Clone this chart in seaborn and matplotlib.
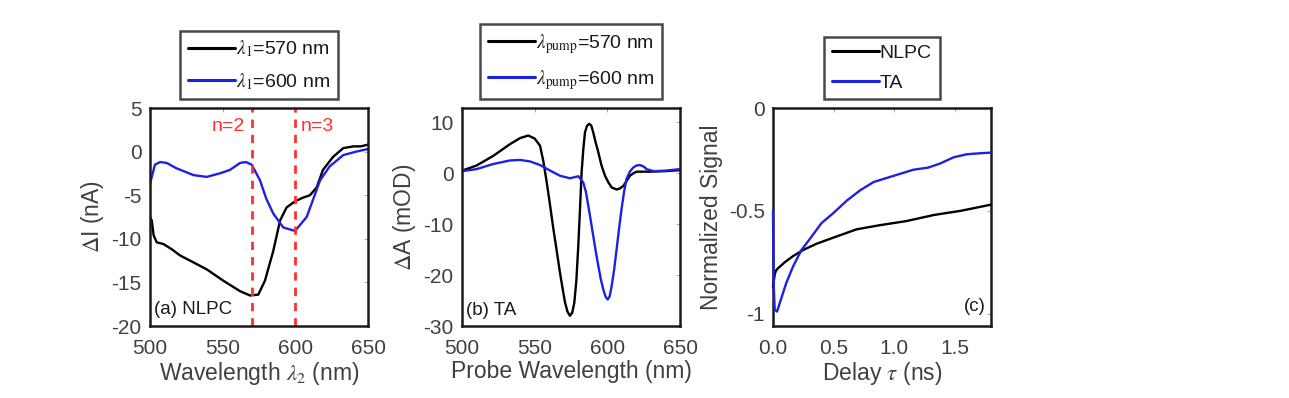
import numpy as np
import seaborn as sns
import matplotlib.pyplot as plt

# (a) NLPC
wl_a_570 = [500, 501.2, 502.5, 504.6, 509.2, 515, 520.6, 529.8, 539, 550.4, 561.9, 568.8, 574.5,
            579.1, 584.8, 589.5, 594, 599.8, 605, 610.1, 614.7, 619, 626, 633, 640, 645, 650]
di_570 = [-7.5, -7.9, -9.6, -10.4, -10.6, -11.2, -11.9, -12.7, -13.5, -14.8, -16.0, -16.5, -16.4,
          -14.8, -11.4, -7.9, -6.4, -5.7, -5.3, -5.0, -4.1, -2.1, -0.6, 0.4, 0.6, 0.6, 0.8]
wl_a_600 = [500, 503.4, 507, 511.5, 518, 530, 539, 548, 555, 562, 566, 570, 575.7, 580, 584.8,
            591.7, 599.8, 607.8, 612, 617, 623.6, 633, 642, 650]
di_600 = [-3.7, -1.5, -1.2, -1.3, -1.9, -2.7, -2.9, -2.5, -2.1, -1.3, -1.2, -1.5, -3.3, -5.4, -7.1,
          -8.7, -9.1, -7.5, -5.6, -3.3, -1.7, -0.4, 0.0, 0.3]
resonances = [570, 600]

# (b) TA
wl_b_570 = [500, 510, 521.5, 533, 540, 545.6, 550, 553.7, 556, 558.3, 560.6, 562.9, 565.2, 567.4,
            569.2, 570.9, 572.6, 574.3, 575.8, 577.3, 578.7, 580, 581.2, 582.3, 583.5, 584.6,
            586, 587.6, 589, 590.3, 592, 593.8, 596, 598.4, 600.7, 603, 606.4, 608.7, 611, 613.3,
            615.6, 618, 620.2, 625, 629.3, 640, 650]
da_570 = [0.5, 1.5, 3.4, 5.7, 6.9, 7.4, 6.8, 5.4, 2.3, -1.8, -6.3, -11.0, -15.3, -19.5, -22.6,
          -25.4, -27.2, -28.0, -27.4, -25.4, -21.0, -14.3, -7.0, 0.2, 4.8, 8.0, 9.3, 9.7, 9.3,
          8.0, 6.0, 4.1, 1.5, -0.5, -1.8, -2.8, -3.2, -3.0, -2.5, -1.5, -0.5, 0.0, 0.3, 0.3, 0.3,
          0.4, 0.6]
wl_b_600 = [500, 510, 521.5, 533, 540, 547, 553.7, 560.7, 567.4, 574.3, 580, 583.4, 585.2, 586.9,
            588.6, 590.3, 592, 593.8, 595.5, 597.2, 598.7, 600.2, 601.6, 603, 604.7, 606.4,
            608.1, 609.8, 611.5, 613.2, 615.5, 617.8, 620, 622.4, 625, 627, 632, 640, 650]
da_600 = [0.4, 0.8, 1.8, 2.5, 2.6, 2.3, 1.6, 0.5, -0.5, -1.0, -0.6, -1.8, -3.6, -6.4, -9.3,
          -12.3, -15.3, -18.2, -20.8, -22.8, -24.2, -24.8, -24.2, -22.1, -18.9, -14.9, -10.8,
          -7.0, -3.7, -1.1, 0.3, 1.1, 1.5, 1.6, 1.3, 0.8, 0.4, 0.5, 0.8]

# (c) kinetics
t_nlpc = [0.0, 0.007, 0.014, 0.025, 0.04, 0.097, 0.166, 0.25, 0.36, 0.50, 0.69, 0.88, 1.10, 1.33,
          1.55, 1.80]
s_nlpc = [-0.87, -0.84, -0.81, -0.79, -0.78, -0.75, -0.72, -0.69, -0.66, -0.63, -0.59, -0.57,
          -0.55, -0.52, -0.50, -0.47]
t_ta = [0.0, 0.005, 0.014, 0.033, 0.055, 0.11, 0.166, 0.235, 0.30, 0.40, 0.50, 0.61, 0.72, 0.83,
        0.94, 1.05, 1.16, 1.28, 1.38, 1.49, 1.60, 1.71, 1.80]
s_ta = [-0.50, -0.85, -0.98, -0.99, -0.95, -0.85, -0.77, -0.69, -0.64, -0.56, -0.51, -0.45, -0.40,
        -0.36, -0.34, -0.32, -0.30, -0.29, -0.27, -0.24, -0.225, -0.22, -0.217]

sns.set_style("white")
plt.rcParams['font.family'] = ['Liberation Sans', 'DejaVu Sans']
plt.rcParams['mathtext.fontset'] = 'stix'
plt.rcParams['axes.unicode_minus'] = False
grey = '#404040'
plt.rcParams['text.color'] = grey
plt.rcParams['xtick.color'] = grey
plt.rcParams['ytick.color'] = grey
plt.rcParams['axes.labelcolor'] = grey

fig = plt.figure(figsize=(12.89, 3.98), dpi=100)
W, H = 1289, 398
bottom, top = 326, 108
lefts = [150, 462, 773]
axes = [fig.add_axes([l / W, (H - bottom) / H, 218 / W, (bottom - top) / H]) for l in lefts]

blue = '#1f1fe6'
lw = 1.7


def style(ax):
    for s in ax.spines.values():
        s.set_visible(True)
        s.set_color('#1a1a1a')
        s.set_linewidth(1.8)
    ax.tick_params(direction='in', length=3, width=0.6, labelsize=15, top=True, right=True,
                   color='#999999')
    ax.tick_params(axis='x', pad=9)
    ax.tick_params(axis='y', pad=6)
    for t in ax.get_xticklabels() + ax.get_yticklabels():
        t.set_color(grey)
    ax.xaxis.label.set_size(16.5)
    ax.yaxis.label.set_size(16.5)
    ax.xaxis.labelpad = 2


def legend(ax):
    leg = ax.legend(loc='lower center', bbox_to_anchor=(0.5, 1.04), fontsize=14, frameon=True,
                    fancybox=False, edgecolor='#1a1a1a', handlelength=2.4, handletextpad=0.05,
                    borderpad=0.4, labelspacing=0.6, borderaxespad=0)
    leg.get_frame().set_linewidth(1.8)
    for t in leg.get_texts():
        t.set_color('#1a1a1a')
    for h in leg.get_lines():
        h.set_linewidth(2.2)


# panel a
ax = axes[0]
sns.lineplot(x=wl_a_570, y=di_570, color='black', lw=lw, ax=ax, estimator=None,
             label=r'$\lambda_1$=570 nm')
sns.lineplot(x=wl_a_600, y=di_600, color=blue, lw=lw, ax=ax, estimator=None,
             label=r'$\lambda_1$=600 nm')
for r in resonances:
    ax.axvline(r, color='#ff3030', ls=(0, (3, 2.5)), lw=2)
ax.text(565, 2.9, 'n=2', color='#ff3030', fontsize=14, ha='right', va='center')
ax.text(604, 2.9, 'n=3', color='#ff3030', fontsize=14, ha='left', va='center')
ax.text(503, -18.1, '(a) NLPC', color='#1a1a1a', fontsize=13.5, ha='left', va='center')
ax.set_xlim(500, 650)
ax.set_ylim(-20, 5)
ax.set_xticks([500, 550, 600, 650])
ax.set_yticks([-20, -15, -10, -5, 0, 5])
ax.set_xlabel(r'Wavelength $\lambda_2$ (nm)')
ax.set_ylabel(r'$\Delta$I (nA)')
style(ax)
legend(ax)

# panel b
ax = axes[1]
sns.lineplot(x=wl_b_570, y=da_570, color='black', lw=lw, ax=ax, estimator=None,
             label=r'$\lambda_{\rm pump}$=570 nm')
sns.lineplot(x=wl_b_600, y=da_600, color=blue, lw=lw, ax=ax, estimator=None,
             label=r'$\lambda_{\rm pump}$=600 nm')
ax.text(503, -27, '(b) TA', color='#1a1a1a', fontsize=13.5, ha='left', va='center')
ax.set_xlim(500, 650)
ax.set_ylim(-30, 12.8)
ax.set_xticks([500, 550, 600, 650])
ax.set_yticks([-30, -20, -10, 0, 10])
ax.set_xlabel('Probe Wavelength (nm)')
ax.set_ylabel(r'$\Delta$A (mOD)')
style(ax)
legend(ax)

# panel c
ax = axes[2]
sns.lineplot(x=t_nlpc, y=s_nlpc, color='black', lw=lw, ax=ax, estimator=None, label='NLPC',
             clip_on=False, zorder=5)
sns.lineplot(x=t_ta, y=s_ta, color=blue, lw=lw, ax=ax, estimator=None, label='TA', sort=False,
             clip_on=False, zorder=6)
ax.text(1.76, -0.965, '(c)', color='#1a1a1a', fontsize=13.5, ha='right', va='center')
ax.set_xlim(0, 1.8)
ax.set_ylim(-1.06, 0)
ax.set_xticks([0, 0.5, 1.0, 1.5])
ax.set_xticklabels(['0.0', '0.5', '1.0', '1.5'])
ax.set_yticks([-1, -0.5, 0])
ax.set_yticklabels(['-1', '-0.5', '0'])
ax.set_xlabel(r'Delay $\tau$ (ns)')
ax.set_ylabel('Normalized Signal')
style(ax)
legend(ax)

fig.savefig('out.png', dpi=100)
